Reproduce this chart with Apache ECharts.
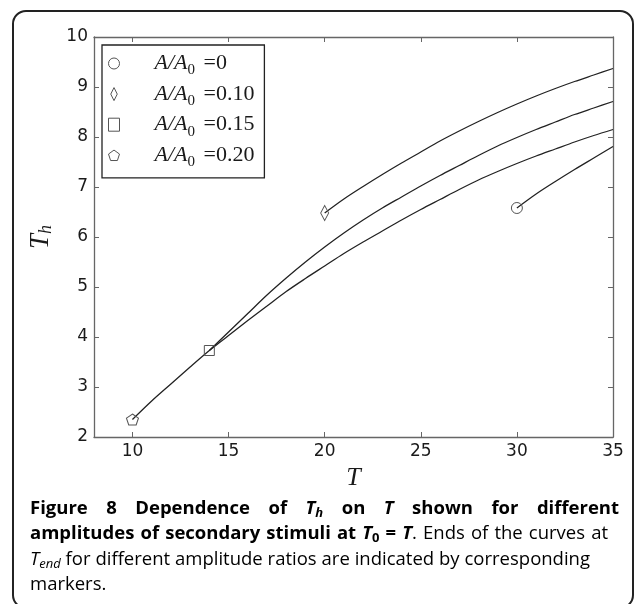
<!DOCTYPE html>
<html>
<head>
<meta charset="utf-8">
<script src="https://cdn.jsdelivr.net/npm/echarts@6/dist/echarts.min.js"></script>
<style>
  html, body { margin: 0; padding: 0; background: #fff; }
  #main { width: 634px; height: 604px; }
</style>
</head>
<body>
<div id="main"></div>
<script>
// values: T and T_h along each curve, starting at the marker (T_end)
const tCircle = [30, 31, 32, 33, 34, 35]
const thCircle = [6.58, 6.86, 7.11, 7.35, 7.58, 7.81]

const tDiamond = [20, 21, 22, 23, 24, 25, 26, 27, 28, 29, 30, 31, 32, 33, 34, 35]
const thDiamond = [6.48, 6.76, 7.01, 7.25, 7.48, 7.70, 7.92, 8.12, 8.31, 8.49, 8.66, 8.82, 8.97, 9.11, 9.24, 9.37]

const tSquare = [14, 15, 16, 17, 18, 19, 20, 21, 22, 23, 24, 25, 26, 27, 28, 29, 30, 31, 32, 33, 34, 35]
const thSquare = [3.73, 4.10, 4.47, 4.84, 5.18, 5.50, 5.80, 6.08, 6.34, 6.58, 6.80, 7.02, 7.23, 7.43, 7.63, 7.82, 7.99, 8.15, 8.30, 8.45, 8.58, 8.71]

const tPentagon = [10, 11, 12, 13, 14, 15, 16, 17, 18, 19, 20, 21, 22, 23, 24, 25, 26, 27, 28, 29, 30, 31, 32, 33, 34, 35]
const thPentagon = [2.35, 2.72, 3.06, 3.40, 3.73, 4.03, 4.33, 4.62, 4.91, 5.17, 5.42, 5.67, 5.90, 6.12, 6.34, 6.55, 6.75, 6.95, 7.14, 7.31, 7.47, 7.62, 7.76, 7.90, 8.03, 8.15]

const ratioLabels = ['0', '0.10', '0.15', '0.20']
const xTicks = [10, 15, 20, 25, 30, 35]

const captionLines = [
  [['b', 'Figure 8 Dependence of '], ['bi', 'T'], ['bisub', 'h'], ['b', ' on '], ['bi', 'T'], ['b', ' shown for different']],
  [['b', 'amplitudes of secondary stimuli at '], ['bi', 'T'], ['bsub', '0'], ['b', ' = '], ['bi', 'T'], ['r', '. Ends of the curves at']],
  [['i', 'T'], ['isub', 'end'], ['r', ' for different amplitude ratios are indicated by corresponding']],
  [['r', 'markers.']]
]

const DIAMOND = 'path://M5,0L10,10L5,20L0,10Z'
const PENTAGON = 'path://M50,0L97.6,34.5L79.4,90.5L20.6,90.5L2.4,34.5Z'
const markers = [
  { symbol: 'circle', size: 11 },
  { symbol: DIAMOND, size: [8, 15] },
  { symbol: 'rect', size: 10 },
  { symbol: PENTAGON, size: [12, 11] }
]

const INK = '#1a1a1a'
const SPINE = '#666'
const MATH = 'Liberation Serif'
const CAP = 'Open Sans'

function curve(idx, t, th) {
  const m = markers[idx]
  return {
    name: ratioLabels[idx],
    type: 'line',
    smooth: 0.3,
    symbol: m.symbol,
    symbolSize: m.size,
    showSymbol: true,
    showAllSymbol: true,
    lineStyle: { color: '#222', width: 1.3 },
    itemStyle: { color: 'rgba(0,0,0,0)', borderColor: '#555', borderWidth: 1 },
    data: t.map((x, i) => i === 0 ? [x, th[i]] : { value: [x, th[i]], symbol: 'none' })
  }
}

// caption: rich text per line, spaces widened so each line spans the width seen in the figure
const ctx = document.createElement('canvas').getContext('2d')
function fontOf(s) {
  return (s.fontStyle || 'normal') + ' ' + (s.fontWeight || 'normal') + ' ' + s.fontSize + 'px "' + CAP + '"'
}
function capStylesAt(size) {
  const sub = Math.round(size * 0.7)
  return {
    b: { fontWeight: 'bold', fontSize: size },
    bi: { fontWeight: 'bold', fontStyle: 'italic', fontSize: size },
    bisub: { fontWeight: 'bold', fontStyle: 'italic', fontSize: sub, padding: [9, 0, 0, 0] },
    bsub: { fontWeight: 'bold', fontSize: sub, padding: [9, 0, 0, 0] },
    r: { fontSize: size },
    i: { fontStyle: 'italic', fontSize: size },
    isub: { fontStyle: 'italic', fontSize: sub, padding: [9, 0, 0, 0] }
  }
}
function splitWords(segs) {
  const words = []
  let cur = []
  segs.forEach(([st, txt]) => {
    txt.split(/( )/).forEach(p => {
      if (p === ' ') { if (cur.length) words.push(cur); cur = [] }
      else if (p) cur.push([st, p])
    })
  })
  if (cur.length) words.push(cur)
  return words
}
function wordsWidth(words, styles) {
  let sum = 0
  words.forEach(w => w.forEach(([st, p]) => {
    ctx.font = fontOf(styles[st])
    sum += ctx.measureText(p).width
  }))
  return sum
}

// pick the caption size so the third (unstretched) line is as long as in the figure
const lineWidths = [589, 578, 560, null]
const probe = capStylesAt(17)
const probeWords = splitWords(captionLines[2])
ctx.font = fontOf(probe.r)
const probeLen = wordsWidth(probeWords, probe) + (probeWords.length - 1) * ctx.measureText(' ').width
const CAP_SIZE = Math.round(17 * 560 / probeLen * 10) / 10
const capStyles = capStylesAt(CAP_SIZE)

function captionText(segs, li) {
  const words = splitWords(segs)
  const sum = wordsWidth(words, capStyles)
  ctx.font = fontOf(capStyles.r)
  let gap = ctx.measureText(' ').width
  if (lineWidths[li] && words.length > 1) gap = Math.max(3, (lineWidths[li] - sum) / (words.length - 1))
  const rich = {}
  Object.keys(capStyles).forEach(k => {
    rich[k] = Object.assign({ fontFamily: CAP, color: '#222', lineHeight: 22 }, capStyles[k])
  })
  rich.gap = { fontFamily: CAP, fontSize: CAP_SIZE, width: gap, lineHeight: 22 }
  const text = words.map(w => w.map(([st, p]) => '{' + st + '|' + p + '}').join('')).join('{gap| }')
  return { text, rich }
}

const capBaselines = [514, 539.5, 565, 590.5]
const captionGraphics = captionLines.map((segs, li) => {
  const c = captionText(segs, li)
  return {
    type: 'text',
    x: 30,
    y: capBaselines[li] - 5.5,
    style: { text: c.text, rich: c.rich, verticalAlign: 'middle', align: 'left' }
  }
})

const chart = echarts.init(document.getElementById('main'), null, { renderer: 'canvas' })

const tickLabel = { fontFamily: 'DejaVu Sans', fontSize: 17, color: INK }
const spine = { show: true, onZero: false, lineStyle: { color: SPINE, width: 1.3 } }
const tickStyle = { color: SPINE, width: 1 }

const option = {
  animation: false,
  backgroundColor: '#fff',
  grid: { left: 94, top: 37, width: 519, height: 400, outerBoundsMode: 'none' },
  legend: {
    orient: 'vertical',
    left: 102,
    top: 45,
    padding: [4, 10, 8, 6],
    itemGap: 1.6,
    itemWidth: 11,
    itemHeight: 13,
    selectedMode: false,
    borderColor: '#222',
    borderWidth: 1.3,
    backgroundColor: '#fff',
    itemStyle: { color: 'rgba(0,0,0,0)', borderColor: '#555', borderWidth: 1 },
    data: ratioLabels.map((n, i) => ({ name: n, icon: markers[i].symbol })),
    formatter: n => '{v|A/A}{s|0}{n| =' + n + '}',
    textStyle: {
      rich: {
        v: { fontFamily: MATH, fontStyle: 'italic', fontSize: 22, color: INK, lineHeight: 22, padding: [0, 0, 0, 30] },
        s: { fontFamily: MATH, fontSize: 15, color: INK, lineHeight: 10, padding: [14, 3, 0, 0] },
        n: { fontFamily: MATH, fontSize: 22, color: INK, lineHeight: 22 }
      }
    }
  },
  xAxis: [
    {
      type: 'value', min: 8, max: 35, position: 'bottom',
      axisLine: spine,
      axisTick: { inside: true, length: 5, customValues: xTicks, lineStyle: tickStyle },
      axisLabel: Object.assign({ customValues: xTicks, margin: 6 }, tickLabel),
      splitLine: { show: false },
      name: 'T',
      nameLocation: 'middle',
      nameGap: 21,
      nameTextStyle: { fontFamily: MATH, fontStyle: 'italic', fontSize: 26, color: INK }
    },
    {
      type: 'value', min: 8, max: 35, position: 'top',
      axisLine: spine,
      axisTick: { inside: true, length: 5, customValues: xTicks, lineStyle: tickStyle },
      axisLabel: { show: false },
      splitLine: { show: false }
    }
  ],
  yAxis: [
    {
      type: 'value', min: 2, max: 10, interval: 1, position: 'left',
      axisLine: spine,
      axisTick: { inside: true, length: 5, lineStyle: tickStyle },
      axisLabel: Object.assign({ margin: 6 }, tickLabel),
      splitLine: { show: false },
      name: '{t|T}{s|h}',
      nameLocation: 'middle',
      nameRotate: 90,
      nameGap: 27,
      nameTextStyle: {
        rich: {
          t: { fontFamily: MATH, fontStyle: 'italic', fontSize: 27, color: INK },
          s: { fontFamily: MATH, fontStyle: 'italic', fontSize: 18, color: INK, padding: [11, 0, 0, 0] }
        }
      }
    },
    {
      type: 'value', min: 2, max: 10, interval: 1, position: 'right',
      axisLine: spine,
      axisTick: { inside: true, length: 5, lineStyle: tickStyle },
      axisLabel: { show: false },
      splitLine: { show: false }
    }
  ],
  series: [
    curve(0, tCircle, thCircle),
    curve(1, tDiamond, thDiamond),
    curve(2, tSquare, thSquare),
    curve(3, tPentagon, thPentagon)
  ],
  graphic: [
    {
      type: 'rect',
      shape: { x: 13, y: 11, width: 620, height: 597, r: 13 },
      style: { fill: 'none', stroke: '#222', lineWidth: 2 },
      z: 10
    }
  ].concat(captionGraphics)
}

chart.setOption(option)
</script>
</body>
</html>
